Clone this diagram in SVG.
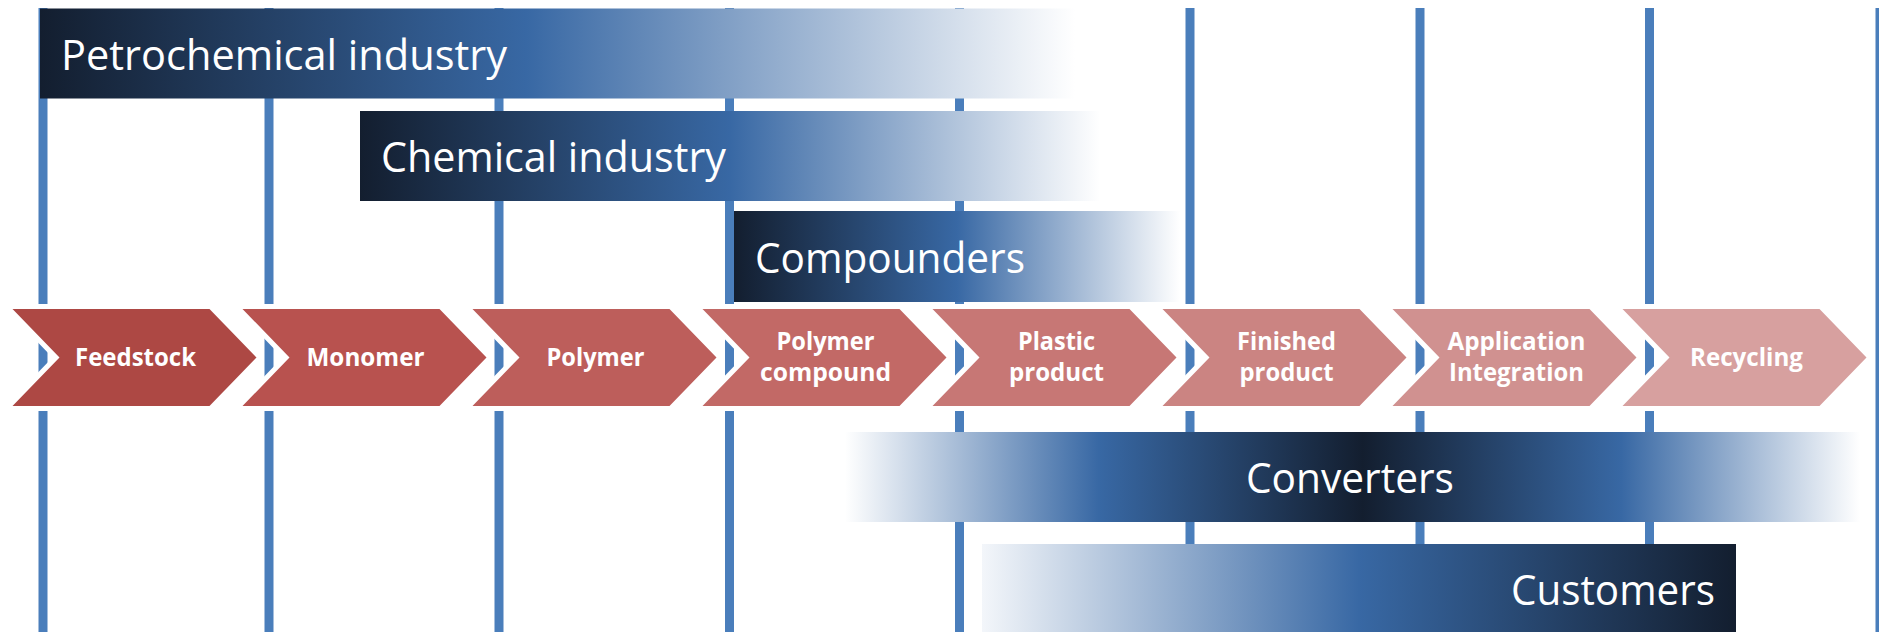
<svg xmlns="http://www.w3.org/2000/svg" width="1879" height="632" viewBox="0 0 1879 632">
<defs>
<style>
.guide{stroke:#4a7ebb;stroke-width:9;fill:none}
.bar-label{font-family:"Open Sans","Noto Sans",sans-serif;font-size:42px;fill:#ffffff}
.chev{stroke:#ffffff;stroke-width:10;stroke-linejoin:miter;paint-order:stroke}
.chev-label{font-family:"Open Sans","Noto Sans",sans-serif;font-size:25px;font-weight:bold;fill:#ffffff;text-anchor:middle}
</style>
<linearGradient id="gFadeRight" x1="0" y1="0" x2="1" y2="0">
<stop offset="0" stop-color="#131e2f"/>
<stop offset="0.47" stop-color="#3868a4"/>
<stop offset="1" stop-color="#ffffff"/>
</linearGradient>
<linearGradient id="gFadeRight2" x1="0" y1="0" x2="1" y2="0">
<stop offset="0" stop-color="#131e2f"/>
<stop offset="0.5" stop-color="#3868a4"/>
<stop offset="1" stop-color="#ffffff"/>
</linearGradient>
<linearGradient id="gBoth" x1="0" y1="0" x2="1" y2="0">
<stop offset="0" stop-color="#ffffff"/>
<stop offset="0.25" stop-color="#3868a4"/>
<stop offset="0.51" stop-color="#131e2f"/>
<stop offset="0.765" stop-color="#3868a4"/>
<stop offset="1" stop-color="#ffffff"/>
</linearGradient>
<linearGradient id="gFadeLeft" x1="0" y1="0" x2="1" y2="0">
<stop offset="0" stop-color="#f3f6fa"/>
<stop offset="0.5" stop-color="#3868a4"/>
<stop offset="1" stop-color="#131e2f"/>
</linearGradient>
<polygon id="chevShape" points="0,309 197,309 244,357.5 197,406 0,406 47,357.5"/>
</defs>
<rect width="1879" height="632" fill="#ffffff"/>

<g id="connectors">
<line class="guide" x1="43" y1="8" x2="43" y2="632"/>
<line class="guide" x1="269" y1="8" x2="269" y2="632"/>
<line class="guide" x1="499" y1="8" x2="499" y2="632"/>
<line class="guide" x1="729.5" y1="8" x2="729.5" y2="632"/>
<line class="guide" x1="959.5" y1="8" x2="959.5" y2="632"/>
<line class="guide" x1="1190" y1="8" x2="1190" y2="632"/>
<line class="guide" x1="1420" y1="8" x2="1420" y2="632"/>
<line class="guide" x1="1649.5" y1="8" x2="1649.5" y2="632"/>
<line class="guide" x1="1880" y1="8" x2="1880" y2="632"/>
</g>

<g id="petrochemical-industry">
<rect x="40" y="8.5" width="1035" height="90" fill="url(#gFadeRight)"/>
<text class="bar-label" x="61" y="70" textLength="446" lengthAdjust="spacingAndGlyphs">Petrochemical industry</text>
</g>
<g id="chemical-industry">
<rect x="360" y="111" width="740" height="90" fill="url(#gFadeRight2)"/>
<text class="bar-label" x="381" y="172" textLength="345" lengthAdjust="spacingAndGlyphs">Chemical industry</text>
</g>
<g id="compounders">
<rect x="734" y="211" width="446" height="91" fill="url(#gFadeRight2)"/>
<text class="bar-label" x="755" y="273" textLength="270" lengthAdjust="spacingAndGlyphs">Compounders</text>
</g>
<g id="converters">
<rect x="845" y="432" width="1015" height="90" fill="url(#gBoth)"/>
<text class="bar-label" x="1246" y="493" textLength="208" lengthAdjust="spacingAndGlyphs">Converters</text>
</g>
<g id="customers">
<rect x="982" y="544" width="754" height="90" fill="url(#gFadeLeft)"/>
<text class="bar-label" x="1511" y="605" textLength="204" lengthAdjust="spacingAndGlyphs">Customers</text>
</g>

<g id="feedstock" transform="translate(12.5,0)">
<use href="#chevShape" class="chev" fill="#ad4844"/>
<text class="chev-label" x="123" y="366" textLength="121" lengthAdjust="spacingAndGlyphs">Feedstock</text>
</g>
<g id="monomer" transform="translate(242.5,0)">
<use href="#chevShape" class="chev" fill="#b8524f"/>
<text class="chev-label" x="123" y="366" textLength="118" lengthAdjust="spacingAndGlyphs">Monomer</text>
</g>
<g id="polymer" transform="translate(472.5,0)">
<use href="#chevShape" class="chev" fill="#bd5e5b"/>
<text class="chev-label" x="123" y="366" textLength="98" lengthAdjust="spacingAndGlyphs">Polymer</text>
</g>
<g id="polymer-compound" transform="translate(702.5,0)">
<use href="#chevShape" class="chev" fill="#c26966"/>
<text class="chev-label" x="123" y="350" textLength="98" lengthAdjust="spacingAndGlyphs">Polymer</text>
<text class="chev-label" x="123" y="381" textLength="131" lengthAdjust="spacingAndGlyphs">compound</text>
</g>
<g id="plastic-product" transform="translate(932.5,0)">
<use href="#chevShape" class="chev" fill="#c77775"/>
<text class="chev-label" x="124" y="350" textLength="77" lengthAdjust="spacingAndGlyphs">Plastic</text>
<text class="chev-label" x="124" y="381" textLength="95" lengthAdjust="spacingAndGlyphs">product</text>
</g>
<g id="finished-product" transform="translate(1162.5,0)">
<use href="#chevShape" class="chev" fill="#cb8482"/>
<text class="chev-label" x="124" y="350" textLength="99" lengthAdjust="spacingAndGlyphs">Finished</text>
<text class="chev-label" x="124" y="381" textLength="94" lengthAdjust="spacingAndGlyphs">product</text>
</g>
<g id="application-integration" transform="translate(1392.5,0)">
<use href="#chevShape" class="chev" fill="#d09190"/>
<text class="chev-label" x="124" y="350" textLength="138" lengthAdjust="spacingAndGlyphs">Application</text>
<text class="chev-label" x="124" y="381" textLength="135" lengthAdjust="spacingAndGlyphs">Integration</text>
</g>
<g id="recycling" transform="translate(1622.5,0)">
<use href="#chevShape" class="chev" fill="#d7a09f"/>
<text class="chev-label" x="124" y="366" textLength="113" lengthAdjust="spacingAndGlyphs">Recycling</text>
</g>
</svg>
